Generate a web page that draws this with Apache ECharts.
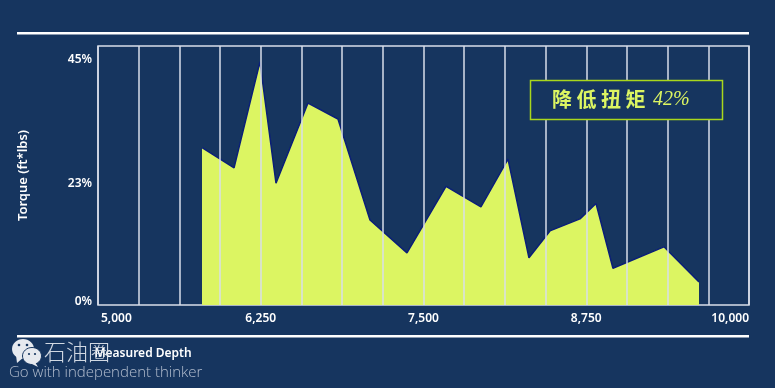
<!DOCTYPE html>
<html>
  <head>
    <meta charset="utf-8" />
    <title>Torque vs Measured Depth</title>
    <style>
      html, body { margin: 0; padding: 0; background: #16355f; }
    </style>
  </head>
  <body>
    <div id="container" style="width: 775px;height: 388px;"></div>
    <script type="text/javascript" src="https://cdn.jsdelivr.net/npm/echarts@6/dist/echarts.min.js"></script>
    <script type="text/javascript">
    // values
    var depth = [5799, 6045, 6244, 6367, 6613, 6843, 7089, 7373, 7673, 7941, 8149, 8310, 8471, 8702, 8825, 8955, 9347, 9616];
    var torque = [28.7, 25.0, 44.3, 22.2, 36.8, 33.9, 15.5, 9.5, 21.6, 17.9, 26.6, 8.6, 13.5, 15.7, 18.5, 6.7, 10.6, 4.2];
    var xTickLabels = [5000, 6250, 7500, 8750, 10000];
    var yTickLabels = [0, 23, 45];

    var points = depth.map(function (d, i) { return [d, torque[i]]; });

    var navy = '#16355f';
    var white = '#ffffff';
    var gridColor = '#d9deea';
    var labelFont = '"Noto Sans", sans-serif';

    var myChart = echarts.init(document.getElementById('container'), null, { renderer: 'canvas' });
    var option = {
      animation: false,
      backgroundColor: navy,
      grid: {
        left: 98, right: 26, top: 46, bottom: 83,
        show: true, borderColor: gridColor, borderWidth: 1.5, backgroundColor: 'transparent'
      },
      xAxis: {
        type: 'value',
        min: 5000, max: 10000, interval: 312.5,
        z: 6,
        axisLine: { show: false },
        axisTick: { show: false },
        splitLine: { show: true, lineStyle: { color: gridColor, width: 1.5 } },
        axisLabel: {
          color: white, fontFamily: labelFont, fontSize: 12, fontWeight: 600, margin: 8,
          alignMinLabel: 'left', alignMaxLabel: 'right',
          formatter: function (v) {
            if (v === 5000) return '{first|5,000}';
            return xTickLabels.indexOf(v) >= 0 ? v.toLocaleString('en-US') : '';
          },
          rich: {
            first: { padding: [0, 0, 0, 3], color: white, fontFamily: labelFont, fontSize: 12, fontWeight: 600 }
          }
        }
      },
      yAxis: {
        type: 'value',
        min: 0, max: 47.2,
        name: 'Torque (ft*lbs)',
        nameLocation: 'middle',
        nameGap: 68,
        nameRotate: 90,
        nameTextStyle: { color: white, fontFamily: labelFont, fontSize: 13, fontWeight: 600 },
        axisLine: { show: false },
        axisTick: { show: false },
        splitLine: { show: false },
        axisLabel: {
          color: white, fontFamily: labelFont, fontSize: 12, fontWeight: 600, margin: 6,
          customValues: yTickLabels,
          formatter: function (v) {
            if (v === 45) return '{top|' + v + '%}';
            if (v === 23) return '{low|' + v + '%}';
            return '{up|' + v + '%}';
          },
          rich: {
            top: { padding: [3, 0, 0, 0], color: white, fontFamily: labelFont, fontSize: 12, fontWeight: 600 },
            low: { padding: [9, 0, 0, 0], color: white, fontFamily: labelFont, fontSize: 12, fontWeight: 600 },
            up: { padding: [0, 0, 7, 0], color: white, fontFamily: labelFont, fontSize: 12, fontWeight: 600 }
          }
        }
      },
      series: [{
        type: 'line',
        data: points,
        z: 2,
        symbol: 'none',
        smooth: false,
        lineStyle: { color: '#0b1f78', width: 1.5 },
        areaStyle: { color: '#dcf562', opacity: 1 }
      }],
      graphic: [
        { type: 'rect', shape: { x: 17, y: 32, width: 732, height: 2.5 }, style: { fill: white } },
        { type: 'rect', shape: { x: 17, y: 335, width: 732, height: 2.5 }, style: { fill: white } },
        {
          type: 'rect', z: 20,
          shape: { x: 530.5, y: 80.5, width: 192, height: 39 },
          style: { fill: navy, stroke: '#a9d61c', lineWidth: 1.5 }
        },
        {
          type: 'text', z: 21, x: 552, y: 99,
          style: {
            text: '降 低 扭 矩', fill: '#dcf562', font: '700 20px "Noto Sans CJK SC"',
            textVerticalAlign: 'middle'
          }
        },
        {
          type: 'text', z: 21, x: 653, y: 100,
          style: {
            text: '42%', fill: '#dcf562', font: 'italic 20px "Liberation Serif"',
            textVerticalAlign: 'middle'
          }
        },
        {
          type: 'text', z: 10, x: 143, y: 354,
          style: {
            text: 'Measured Depth', fill: white, font: '600 12px "Noto Sans"',
            textAlign: 'center', textVerticalAlign: 'middle'
          }
        },
        // watermark, drawn over the axis title
        { type: 'ellipse', z: 30, shape: { cx: 23, cy: 349, rx: 11, ry: 10 }, style: { fill: '#e6e9ef' } },
        { type: 'polygon', z: 30, shape: { points: [[16, 355], [17, 363], [24, 357]] }, style: { fill: '#e6e9ef' } },
        { type: 'ellipse', z: 31, shape: { cx: 32, cy: 356, rx: 9.5, ry: 8.5 }, style: { fill: '#e6e9ef', stroke: navy, lineWidth: 1 } },
        { type: 'polygon', z: 31, shape: { points: [[35, 362], [38, 367], [30, 363]] }, style: { fill: '#e6e9ef' } },
        { type: 'circle', z: 32, shape: { cx: 19, cy: 345, r: 1.3 }, style: { fill: navy } },
        { type: 'circle', z: 32, shape: { cx: 27, cy: 345, r: 1.3 }, style: { fill: navy } },
        { type: 'circle', z: 32, shape: { cx: 29, cy: 354, r: 1.1 }, style: { fill: navy } },
        { type: 'circle', z: 32, shape: { cx: 35, cy: 354, r: 1.1 }, style: { fill: navy } },
        {
          type: 'text', z: 33, x: 44, y: 352,
          style: {
            text: '石油圈', fill: 'rgba(225,230,238,0.92)', font: '300 22px "Noto Sans CJK SC"',
            textVerticalAlign: 'middle'
          }
        },
        {
          type: 'text', z: 33, x: 9, y: 373,
          style: {
            text: 'Go with independent thinker', fill: 'rgba(205,212,225,0.85)', font: '300 15px "Open Sans"',
            textVerticalAlign: 'middle'
          }
        }
      ]
    };
    myChart.setOption(option);

    window.addEventListener('resize', myChart.resize);
    </script>
  </body>
</html>
